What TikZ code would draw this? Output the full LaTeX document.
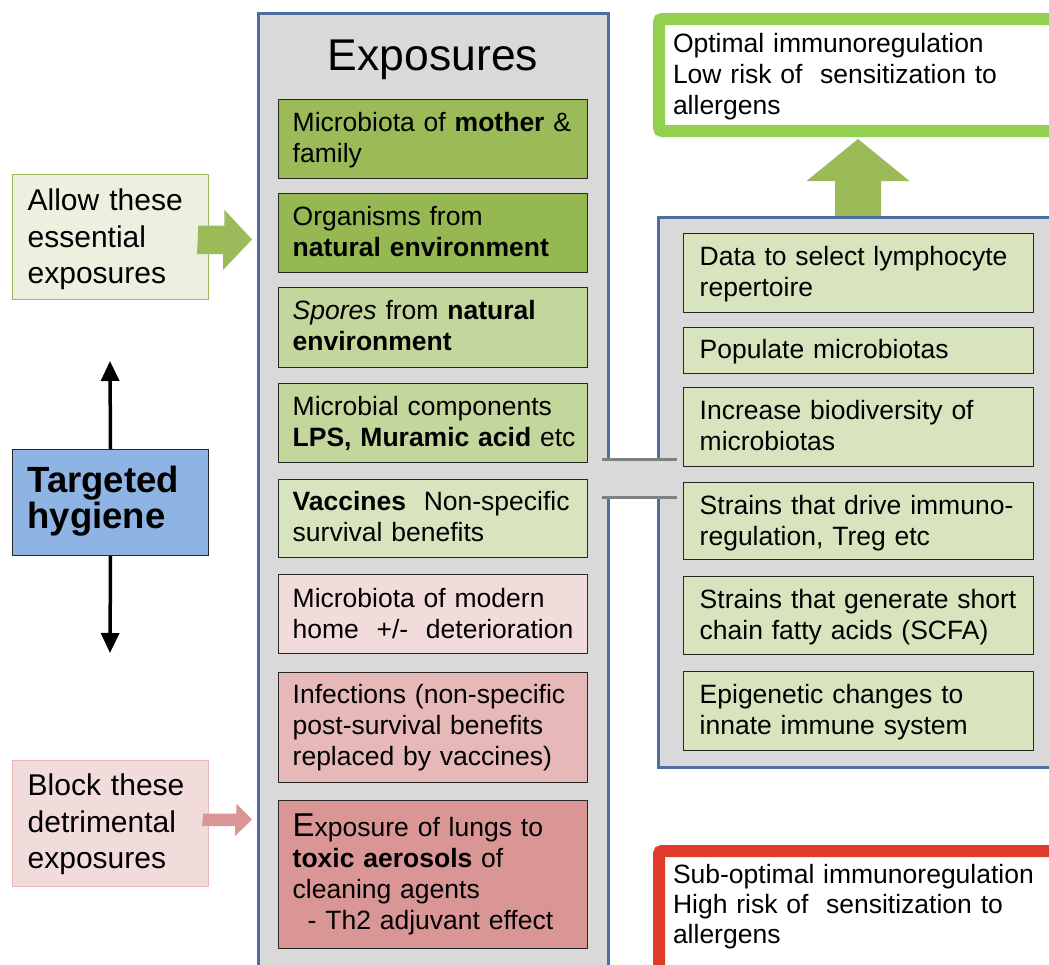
\documentclass[tikz,border=0pt]{standalone}
\usepackage{fontspec}
\setmainfont{Liberation Sans}
\usetikzlibrary{arrows.meta,calc}

\definecolor{panelgray}{HTML}{D9D9D9}
\definecolor{panelblue}{HTML}{4A6FA0}
\definecolor{boxline}{HTML}{262626}
\definecolor{linkgray}{HTML}{808080}
\definecolor{gA}{HTML}{9BBB59}
\definecolor{gB}{HTML}{96B853}
\definecolor{gC}{HTML}{C3D69B}
\definecolor{gD}{HTML}{D7E4BD}
\definecolor{gE}{HTML}{EBF1DE}
\definecolor{pA}{HTML}{F2DCDB}
\definecolor{pB}{HTML}{E6B9B8}
\definecolor{pC}{HTML}{D99694}
\definecolor{hygblue}{HTML}{8EB4E3}
\definecolor{goodgreen}{HTML}{92D050}
\definecolor{badred}{HTML}{E03A2C}

\begin{document}
\begin{tikzpicture}[x=1pt,y=-1pt,
  body/.style={font=\fontsize{26.5}{31}\selectfont, align=left, inner ysep=0pt, anchor=north west},
  panel/.style={draw=panelblue, line width=3pt, fill=panelgray, anchor=north west, inner sep=0pt},
  ebox/.style={body, draw=boxline, line width=1.4pt, inner xsep=14pt, text width=281pt, text height=32pt},
  rbox/.style={body, draw=boxline, line width=1.4pt, fill=gD, inner xsep=16pt, text width=318pt, text height=32pt},
  sidebox/.style={body, font=\fontsize{30}{36.5}\selectfont, line width=1.3pt, inner xsep=15pt, text width=166pt},
  outcome/.style={body, fill=white, line width=12pt, rounded corners=3pt, inner xsep=14pt, text width=383pt},
  garrow/.style={fill=gA},
  parrow/.style={fill=pC},
  link/.style={draw=linkgray, line width=3pt},
  vline/.style={line width=3.5pt, -{Triangle[length=20pt,width=18pt]}}
]
\useasboundingbox (0,0) rectangle (1049,964);
\begin{scope}
\clip (0,0) rectangle (1049,964);

% outcome boxes on the right
\node[outcome, draw=goodgreen, text height=33pt, text depth=79pt] (good) at (653,13)
  {Optimal immunoregulation\\Low risk of~ sensitization to\\allergens};
\node[outcome, draw=badred, font=\fontsize{26.5}{30}\selectfont, text height=32pt, text depth=120pt] (bad) at (653,845)
  {Sub-optimal immunoregulation\\High risk of~ sensitization to\\allergens};

% upward arrow from the effects panel to the good outcome
\path (659,217) ++(199,0) coordinate (upBase);
\path (good.south west) ++(205,2) coordinate (upTip);
\fill[garrow] (upBase) ++(-23,0) -- ++(0,-36) -- ++(-28.5,0) -- (upTip)
  -- ++(51.5,42) -- ++(-28.5,0) -- ++(0,36) -- cycle;

% the two grey panels
\node[panel, minimum width=350pt, minimum height=975pt] (expo) at (257,12) {};
\node[font=\fontsize{44.5}{50}\selectfont, anchor=base, inner sep=0pt] (expotitle) at (433,70) {Exposures};
\node[panel, minimum width=420pt, minimum height=550pt] (effects) at (657,216) {};

% link between the panels
\coordinate (linkTL) at (602,459);
\coordinate (linkTR) at (677,459);
\coordinate (linkBL) at (602,497);
\coordinate (linkBR) at (677,497);
\fill[panelgray] ($(linkTL)+(2,1.5)$) rectangle ($(linkBR)+(-14,-1.5)$);
\draw[link] (linkTL) -- (linkTR);
\draw[link] (linkBL) -- (linkBR);

% exposures
\node[ebox, fill=gA, text depth=47pt] (e1) at (278,99)
  {\mbox{Microbiota of \textbf{mother} \&}\\family};
\node[ebox, fill=gB, text depth=47pt] (e2) at (278,193)
  {Organisms from\\\mbox{\textbf{natural environment}}};
\node[ebox, fill=gC, text depth=48pt] (e3) at (278,287)
  {\mbox{\textit{Spores} from \textbf{natural}}\\\textbf{environment}};
\node[ebox, fill=gC, text depth=47pt] (e4) at (278,383)
  {Microbial components\\\mbox{\textbf{LPS, Muramic acid} etc}};
\node[ebox, fill=gD, text height=31pt, text depth=47pt] (e5) at (278,479)
  {\mbox{\textbf{Vaccines}~ Non-specific}\\survival benefits};
\node[ebox, fill=pA, text height=33pt, text depth=46pt] (e6) at (278,574)
  {Microbiota of modern\\\mbox{home~ +/-~ deterioration}};
\node[ebox, fill=pB, text height=31pt, text depth=79pt] (e7) at (278,672)
  {\mbox{Infections (non-specific}\\post-survival benefits\\replaced by vaccines)};
\node[ebox, fill=pC, text height=36pt, text depth=112pt] (e8) at (278,800)
  {{\fontsize{33}{31}\selectfont E}xposure of lungs to\\\textbf{toxic aerosols} of\\cleaning agents\\\mbox{\hspace*{15pt}- Th2 adjuvant effect}};

% effects
\node[rbox, text depth=47pt] (r1) at (683,233)
  {\mbox{Data to select lymphocyte}\\repertoire};
\node[rbox, text height=31pt, text depth=15pt] (r2) at (683,327)
  {Populate microbiotas};
\node[rbox, text depth=47pt] (r3) at (683,387)
  {Increase biodiversity of\\microbiotas};
\node[rbox, text depth=45pt] (r4) at (683,482)
  {\mbox{Strains that drive immuno-}\\regulation, Treg etc};
\node[rbox, text depth=46pt] (r5) at (683,576)
  {\mbox{Strains that generate short}\\\mbox{chain fatty acids (SCFA)}};
\node[rbox, text depth=47pt] (r6) at (683,671)
  {Epigenetic changes to\\innate immune system};

% left-hand side
\node[sidebox, draw=gA, fill=gE, text height=36pt, text depth=89pt] (allow) at (12,174)
  {Allow these\\essential\\exposures};
\node[sidebox, draw=pB, fill=pA, text height=35pt, text depth=91pt] (block) at (12,760)
  {Block these\\detrimental\\exposures};
\node[sidebox, draw=boxline, line width=1pt, fill=hygblue, font=\bfseries\fontsize{36.5}{36}\selectfont,
      text height=43pt, text depth=63pt] (hyg) at (12,449)
  {Targeted\\hygiene};

% arrows into the exposures panel
\path (allow.east) ++(-11,3) coordinate (aBase);
\coordinate (aTip) at (252,239.5);
\fill[garrow] (aBase) ++(0,-14.5) -- ++(26,0) -- ++(0,-16) -- (aTip)
  -- ++(-29,30.5) -- ++(0,-16) -- ++(-26,0) -- cycle;
\path (block.east) ++(-6,-3.5) coordinate (bBase);
\coordinate (bTip) at (252,819.5);
\fill[parrow] (bBase) ++(0,-6.5) -- ++(33,0) -- ++(0,-10) -- (bTip)
  -- ++(-17,16.5) -- ++(0,-10) -- ++(-33,0) -- cycle;

% targeted hygiene arrows
\coordinate (hygTop) at (110,361);
\coordinate (hygBot) at (110,653);
\draw[vline] (hyg.north) -- (hygTop);
\draw[vline] (hyg.south) -- (hygBot);
\end{scope}
\end{tikzpicture}
\end{document}
